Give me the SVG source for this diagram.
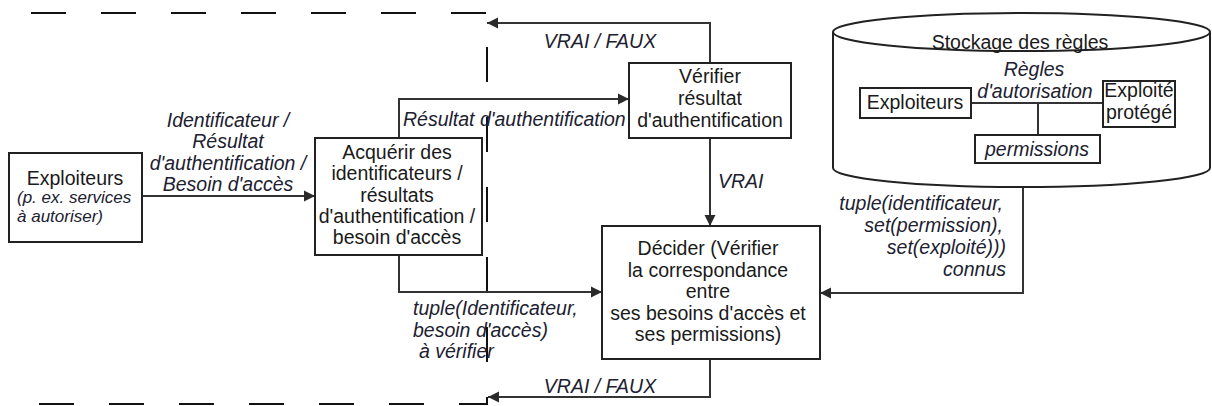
<svg xmlns="http://www.w3.org/2000/svg" width="1212" height="406" viewBox="0 0 1212 406">
<defs>
<marker id="arr" markerUnits="userSpaceOnUse" markerWidth="12" markerHeight="12" refX="11" refY="6" orient="auto">
<path d="M0,0.5 L11,6 L0,11.5 z" fill="#2a2a2a"/>
</marker>
</defs>
<style>
text{font-family:"Liberation Sans",Arial,sans-serif;font-size:19.5px;fill:#1a1a1a}
.i{font-style:italic;fill:#202030}
.s{font-size:17px}
.m{text-anchor:middle}
.e{text-anchor:end}
.box{fill:#fff;stroke:#222;stroke-width:2}
.c{fill:none;stroke:#333;stroke-width:2}
.ca{fill:none;stroke:#333;stroke-width:2;marker-end:url(#arr)}
.dash{fill:none;stroke:#111;stroke-width:2;stroke-dasharray:35 35}
</style>
<rect width="1212" height="406" fill="#fff"/>

<path class="dash" d="M31,13 H487 V404 H36"/>

<g id="connectors">
<path class="ca" d="M142,196 H315"/>
<path class="ca" d="M710,63 V23 H487"/>
<path class="ca" d="M399,138 V99 H629"/>
<path class="ca" d="M710,138 V226"/>
<path class="ca" d="M399,255 V292 H602"/>
<path class="ca" d="M710,359 V397 H488"/>
<path class="ca" d="M1023,187 V293 H820"/>
</g>

<g id="labels">
<text class="i m" x="228" y="127">Identificateur /</text>
<text class="i m" x="228" y="148">Résultat</text>
<text class="i m" x="228" y="170">d'authentification /</text>
<text class="i m" x="228" y="191">Besoin d'accès</text>
<text class="i m" x="600" y="48">VRAI / FAUX</text>
<text class="i" x="403" y="126">Résultat d'authentification</text>
<text class="i" x="718" y="188">VRAI</text>
<text class="i" x="413" y="315">tuple(Identificateur,</text>
<text class="i" x="413" y="337">besoin d'accès)</text>
<text class="i" x="419" y="358">à vérifier</text>
<text class="i m" x="600" y="393">VRAI / FAUX</text>
<text class="i e" x="1003" y="210">tuple(identificateur,</text>
<text class="i e" x="1003" y="232">set(permission),</text>
<text class="i e" x="1006" y="254">set(exploité)))</text>
<text class="i e" x="1006" y="276">connus</text>
</g>

<g id="exploiteurs">
<rect class="box" x="9" y="153" width="133" height="89"/>
<text class="m" x="75" y="185">Exploiteurs</text>
<text class="i s" x="17" y="203">(p. ex. services</text>
<text class="i s" x="17" y="222">à autoriser)</text>
</g>

<g id="acquerir">
<rect class="box" x="315" y="138" width="167" height="117"/>
<text class="m" x="397" y="159">Acquérir des</text>
<text class="m" x="397" y="180">identificateurs /</text>
<text class="m" x="397" y="202">résultats</text>
<text class="m" x="397" y="223">d'authentification /</text>
<text class="m" x="397" y="244">besoin d'accès</text>
</g>

<g id="verifier">
<rect class="box" x="629" y="63" width="162" height="75"/>
<text class="m" x="710" y="83">Vérifier</text>
<text class="m" x="710" y="105">résultat</text>
<text class="m" x="710" y="127">d'authentification</text>
</g>

<g id="decider">
<rect class="box" x="602" y="226" width="218" height="133"/>
<text class="m" x="708" y="255">Décider (Vérifier</text>
<text class="m" x="708" y="277">la correspondance</text>
<text class="m" x="708" y="298">entre</text>
<text class="m" x="708" y="320">ses besoins d'accès et</text>
<text class="m" x="708" y="341">ses permissions)</text>
</g>

<g id="stockage">
<path class="box" d="M833,32 V168 A188.5,19 0 0 0 1210,168 V32"/>
<ellipse class="box" cx="1021.5" cy="32" rx="188.5" ry="19"/>
<text class="m" x="1020" y="49">Stockage des règles</text>
<text class="i m" x="1034" y="76">Règles</text>
<text class="i m" x="1035" y="98">d'autorisation</text>
<path class="c" d="M971,103 H1103 M1038,103 V135"/>
<rect class="box" x="860" y="88" width="111" height="30"/>
<text class="m" x="915" y="109">Exploiteurs</text>
<rect class="box" x="1103" y="81" width="72" height="46"/>
<text class="m" x="1139" y="97">Exploité</text>
<text class="m" x="1139" y="119">protégé</text>
<rect class="box" x="975" y="135" width="125" height="28"/>
<text class="i m" x="1037" y="156">permissions</text>
</g>
</svg>
